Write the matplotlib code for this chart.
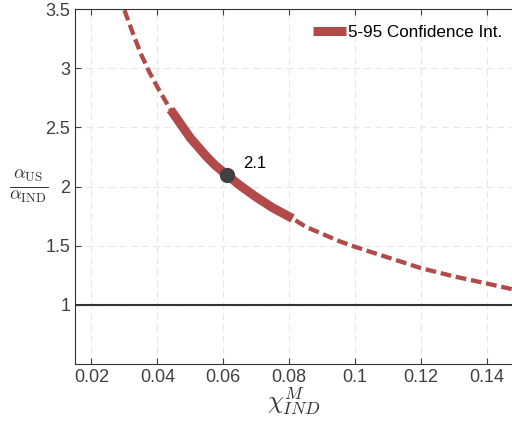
import numpy as np
import matplotlib.pyplot as plt

plt.rcParams['font.family'] = ['Liberation Sans', 'DejaVu Sans']
plt.rcParams['mathtext.fontset'] = 'cm'

# curve
chi = [0.0300, 0.0325, 0.0350, 0.0375, 0.0400, 0.0425, 0.0440, 0.0475,
       0.0500, 0.0525, 0.0550, 0.0575, 0.0610, 0.0650, 0.0700, 0.0750,
       0.0810, 0.0850, 0.0900, 0.0950, 0.1000, 0.1100, 0.1200, 0.1300,
       0.1400, 0.1480]
ratio = [3.49, 3.30, 3.12, 2.97, 2.84, 2.72, 2.65, 2.51,
         2.41, 2.33, 2.25, 2.18, 2.10, 2.01, 1.91, 1.82,
         1.73, 1.66, 1.60, 1.54, 1.49, 1.40, 1.31, 1.24,
         1.18, 1.13]
ci_lo, ci_hi = 0.044, 0.081   # 5-95 band on x
point_x, point_y = 0.061, 2.1

xticks = [0.02, 0.04, 0.06, 0.08, 0.1, 0.12, 0.14]
xtick_labels = ['0.02', '0.04', '0.06', '0.08', '0.1', '0.12', '0.14']
yticks = [1, 1.5, 2, 2.5, 3, 3.5]
ytick_labels = ['1', '1.5', '2', '2.5', '3', '3.5']

red = '#B24A4A'
chi = np.array(chi)
ratio = np.array(ratio)
inside = (chi >= ci_lo) & (chi <= ci_hi)

fig = plt.figure(figsize=(5.12, 4.29), dpi=100)
ax = fig.add_axes([75/512, 1 - 364/429, 1 - 75/512, 355/429])

ax.plot(chi, ratio, color=red, lw=3.1, ls=(0, (2.5, 1.1)))
ax.plot(chi[inside], ratio[inside], color=red, lw=6.5,
        solid_capstyle='butt', solid_joinstyle='round',
        label='5-95 Confidence Int.')
ax.axhline(1, color='#333333', lw=1.5)
ax.plot(point_x, point_y, 'o', color='#404040', ms=10)
ax.text(point_x + 0.005, point_y + 0.03, '2.1', fontsize=12, va='bottom')

ax.set_xlim(0.015, 0.1476)
ax.set_ylim(0.5, 3.5)
ax.set_xticks(xticks)
ax.set_xticklabels(xtick_labels)
ax.set_yticks(yticks)
ax.set_yticklabels(ytick_labels)
ax.tick_params(direction='in', top=True, labelsize=13, colors='#404040',
               labelcolor='#404040', length=4)
ax.grid(True, ls=(0, (6, 4)), color='#e6e6e6', lw=0.8)
for s in ['left', 'bottom', 'top']:
    ax.spines[s].set_color('#333333')
ax.spines['right'].set_visible(False)

ax.set_xlabel(r'$\chi^{M}_{IND}$', fontsize=18, color='#333333', labelpad=0)
ax.set_ylabel(r'$\frac{\alpha_{\mathrm{US}}}{\alpha_{\mathrm{IND}}}$',
              fontsize=19, rotation=0, color='#333333', labelpad=12, va='center')

leg = ax.legend(loc='upper right', frameon=False, fontsize=12.3,
                handlelength=1.9, handletextpad=0.1,
                bbox_to_anchor=(1.0, 0.985), borderaxespad=0.2)

fig.savefig('out.png', dpi=100)
